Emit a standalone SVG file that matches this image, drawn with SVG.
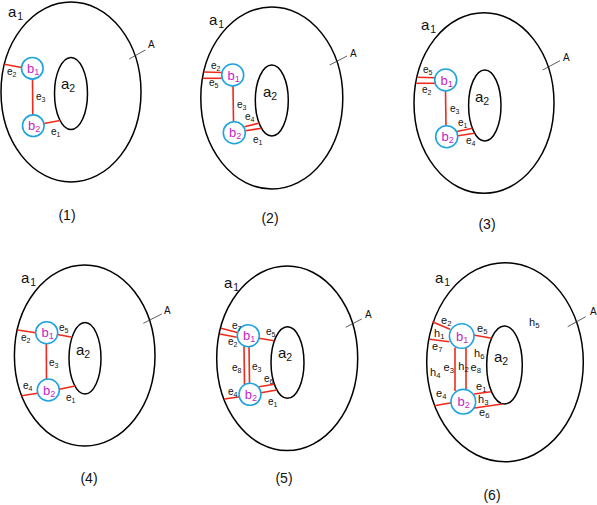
<svg xmlns="http://www.w3.org/2000/svg" width="597" height="505" viewBox="0 0 597 505">
<style>
text{font-family:"Liberation Sans",Arial,sans-serif;fill:#111}
.ring{fill:none;stroke:#000;stroke-width:1.5}
.b{fill:#fff;stroke:#1ea3df;stroke-width:1.6}
.e{stroke:#f02a1a;stroke-width:1.6;fill:none}
.t{stroke:#333;stroke-width:0.8}
.a{font-size:15px}
.bl{font-size:13px;fill:#c41fc4}
.l{font-size:10px}
.l6{font-size:11px}
.A{font-size:10px}
.cap{font-size:14px}
.s{font-size:70%}
</style>
<rect width="597" height="505" fill="#fff"/>

<!-- Panel 1 -->
<g id="panel1">
<g id="p1-outer"><ellipse class="ring" cx="71" cy="92" rx="70" ry="90"/></g>
<g id="p1-inner"><ellipse class="ring" cx="71" cy="93.5" rx="16.5" ry="36"/></g>
<g id="p1-connectors">
<line class="e" x1="4.3" y1="64.3" x2="21.6" y2="67.5"/>
<line class="e" x1="32.5" y1="79" x2="32.8" y2="115"/>
<line class="e" x1="44" y1="123.5" x2="60.2" y2="120.5"/>
<line class="t" x1="129.3" y1="59" x2="145.3" y2="50"/>
</g>
<g id="p1-b1"><circle class="b" cx="32.3" cy="68.3" r="10.8"/><text class="bl" x="27" y="72.5">b<tspan class="s" dy="2">1</tspan></text></g>
<g id="p1-b2"><circle class="b" cx="33.3" cy="125.7" r="10.8"/><text class="bl" x="28" y="130">b<tspan class="s" dy="2">2</tspan></text></g>
<text class="a" x="8" y="17">a<tspan class="s" dx="1" dy="3">1</tspan></text>
<text class="a" x="61" y="89">a<tspan class="s" dy="3">2</tspan></text>
<text class="A" x="148" y="48">A</text>
<text class="l" x="7" y="75">e<tspan class="s" dy="2">2</tspan></text>
<text class="l" x="36" y="100">e<tspan class="s" dy="2">3</tspan></text>
<text class="l" x="51" y="135">e<tspan class="s" dy="2">1</tspan></text>
<text class="cap" x="67" y="220" text-anchor="middle">(1)</text>
</g>

<!-- Panel 2 -->
<g id="panel2">
<g id="p2-outer"><ellipse class="ring" cx="271.8" cy="98" rx="71" ry="91"/></g>
<g id="p2-inner"><ellipse class="ring" cx="271.8" cy="100.5" rx="16.5" ry="35.5"/></g>
<g id="p2-connectors">
<line class="e" x1="203.8" y1="72" x2="222" y2="72.5"/>
<line class="e" x1="202.7" y1="78.3" x2="221.8" y2="78.3"/>
<line class="e" x1="233" y1="86" x2="233.5" y2="121.7"/>
<line class="e" x1="244.5" y1="126.7" x2="259.5" y2="123"/>
<line class="e" x1="245.5" y1="130.7" x2="261.5" y2="128.3"/>
<line class="t" x1="329.7" y1="65" x2="347" y2="56"/>
</g>
<g id="p2-b1"><circle class="b" cx="232.7" cy="75" r="11"/><text class="bl" x="227.5" y="79.5">b<tspan class="s" dy="2">1</tspan></text></g>
<g id="p2-b2"><circle class="b" cx="234.3" cy="132.7" r="11"/><text class="bl" x="229" y="137">b<tspan class="s" dy="2">2</tspan></text></g>
<text class="a" x="209" y="25">a<tspan class="s" dx="1" dy="3">1</tspan></text>
<text class="a" x="263" y="97">a<tspan class="s" dy="3">2</tspan></text>
<text class="A" x="350" y="57">A</text>
<text class="l" x="211" y="69">e<tspan class="s" dy="2">2</tspan></text>
<text class="l" x="209" y="86">e<tspan class="s" dy="2">5</tspan></text>
<text class="l" x="237" y="108">e<tspan class="s" dy="2">3</tspan></text>
<text class="l" x="245" y="120">e<tspan class="s" dy="2">4</tspan></text>
<text class="l" x="253" y="143">e<tspan class="s" dy="2">1</tspan></text>
<text class="cap" x="270" y="223" text-anchor="middle">(2)</text>
</g>

<!-- Panel 3 -->
<g id="panel3">
<g id="p3-outer"><ellipse class="ring" cx="484" cy="103" rx="70" ry="90.3"/></g>
<g id="p3-inner"><ellipse class="ring" cx="484.8" cy="105.5" rx="16.2" ry="35.5"/></g>
<g id="p3-connectors">
<line class="e" x1="417" y1="77.3" x2="435" y2="77.8"/>
<line class="e" x1="416.3" y1="83.3" x2="435" y2="83.3"/>
<line class="e" x1="445.5" y1="91.3" x2="446" y2="126"/>
<line class="e" x1="457" y1="131.5" x2="472.4" y2="128.3"/>
<line class="e" x1="458" y1="135.7" x2="474.5" y2="133.3"/>
<line class="t" x1="542.7" y1="70" x2="560" y2="60.7"/>
</g>
<g id="p3-b1"><circle class="b" cx="445.7" cy="80" r="11"/><text class="bl" x="440.5" y="84.5">b<tspan class="s" dy="2">1</tspan></text></g>
<g id="p3-b2"><circle class="b" cx="446.7" cy="136.7" r="11"/><text class="bl" x="441.5" y="141">b<tspan class="s" dy="2">2</tspan></text></g>
<text class="a" x="421" y="30">a<tspan class="s" dx="1" dy="3">1</tspan></text>
<text class="a" x="475" y="102">a<tspan class="s" dy="3">2</tspan></text>
<text class="A" x="563" y="61">A</text>
<text class="l" x="423" y="73">e<tspan class="s" dy="2">5</tspan></text>
<text class="l" x="422" y="93">e<tspan class="s" dy="2">2</tspan></text>
<text class="l" x="450" y="112">e<tspan class="s" dy="2">3</tspan></text>
<text class="l" x="458" y="126">e<tspan class="s" dy="2">1</tspan></text>
<text class="l" x="466" y="144">e<tspan class="s" dy="2">4</tspan></text>
<text class="cap" x="487" y="229" text-anchor="middle">(3)</text>
</g>

<!-- Panel 4 -->
<g id="panel4">
<g id="p4-outer"><ellipse class="ring" cx="84.7" cy="355.5" rx="70.3" ry="90.5"/></g>
<g id="p4-inner"><ellipse class="ring" cx="85" cy="358.3" rx="16" ry="35.7"/></g>
<g id="p4-connectors">
<line class="e" x1="17.5" y1="330" x2="35.8" y2="332.7"/>
<line class="e" x1="57.5" y1="334.5" x2="72.2" y2="337.3"/>
<line class="e" x1="46.3" y1="343.7" x2="46.5" y2="379.2"/>
<line class="e" x1="21.7" y1="395.7" x2="37.5" y2="393.3"/>
<line class="e" x1="59.3" y1="389.3" x2="75" y2="386"/>
<line class="t" x1="143.3" y1="323.3" x2="161.7" y2="314"/>
</g>
<g id="p4-b1"><circle class="b" cx="46.7" cy="332.7" r="11"/><text class="bl" x="41.5" y="337">b<tspan class="s" dy="2">1</tspan></text></g>
<g id="p4-b2"><circle class="b" cx="48.3" cy="390" r="11"/><text class="bl" x="43" y="394.5">b<tspan class="s" dy="2">2</tspan></text></g>
<text class="a" x="21" y="283">a<tspan class="s" dx="1" dy="3">1</tspan></text>
<text class="a" x="76" y="355">a<tspan class="s" dy="3">2</tspan></text>
<text class="A" x="164" y="314">A</text>
<text class="l" x="21" y="341">e<tspan class="s" dy="2">2</tspan></text>
<text class="l" x="59" y="331">e<tspan class="s" dy="2">5</tspan></text>
<text class="l" x="49" y="366">e<tspan class="s" dy="2">3</tspan></text>
<text class="l" x="23" y="389">e<tspan class="s" dy="2">4</tspan></text>
<text class="l" x="66" y="401">e<tspan class="s" dy="2">1</tspan></text>
<text class="cap" x="89" y="483" text-anchor="middle">(4)</text>
</g>

<!-- Panel 5 -->
<g id="panel5">
<g id="p5-outer"><ellipse class="ring" cx="287.2" cy="358.3" rx="70.5" ry="92.3"/></g>
<g id="p5-inner"><ellipse class="ring" cx="287.5" cy="362.5" rx="16.5" ry="35.8"/></g>
<g id="p5-connectors">
<line class="e" x1="221" y1="328.3" x2="238.3" y2="332.7"/>
<line class="e" x1="219.8" y1="334" x2="236.8" y2="337.3"/>
<line class="e" x1="259" y1="338.3" x2="274.2" y2="340.7"/>
<line class="e" x1="244" y1="346" x2="244.5" y2="384.5"/>
<line class="e" x1="249" y1="346.5" x2="249.5" y2="383.5"/>
<line class="e" x1="259" y1="386.7" x2="274.3" y2="384.3"/>
<line class="e" x1="261" y1="392.7" x2="276.7" y2="390"/>
<line class="e" x1="224.3" y1="399" x2="240" y2="396.7"/>
<line class="t" x1="345.7" y1="327.3" x2="361.7" y2="319"/>
</g>
<g id="p5-b1"><circle class="b" cx="248.3" cy="335.7" r="11"/><text class="bl" x="243" y="340">b<tspan class="s" dy="2">1</tspan></text></g>
<g id="p5-b2"><circle class="b" cx="250" cy="394.3" r="11"/><text class="bl" x="244.7" y="398.7">b<tspan class="s" dy="2">2</tspan></text></g>
<text class="a" x="224" y="288">a<tspan class="s" dx="1" dy="3">1</tspan></text>
<text class="a" x="278" y="358">a<tspan class="s" dy="3">2</tspan></text>
<text class="A" x="365" y="318">A</text>
<text class="l" x="232" y="329">e<tspan class="s" dy="2">7</tspan></text>
<text class="l" x="228" y="345">e<tspan class="s" dy="2">2</tspan></text>
<text class="l" x="266" y="335">e<tspan class="s" dy="2">5</tspan></text>
<text class="l" x="232" y="371">e<tspan class="s" dy="2">8</tspan></text>
<text class="l" x="252" y="370">e<tspan class="s" dy="2">3</tspan></text>
<text class="l" x="264" y="382">e<tspan class="s" dy="2">6</tspan></text>
<text class="l" x="228" y="395">e<tspan class="s" dy="2">4</tspan></text>
<text class="l" x="268" y="405">e<tspan class="s" dy="2">1</tspan></text>
<text class="cap" x="284" y="483" text-anchor="middle">(5)</text>
</g>

<!-- Panel 6 -->
<g id="panel6">
<g id="p6-outer"><ellipse class="ring" cx="505" cy="362.2" rx="78.3" ry="99.5"/></g>
<g id="p6-inner"><ellipse class="ring" cx="504.5" cy="365" rx="17.8" ry="39"/></g>
<g id="p6-connectors">
<line class="e" x1="432.3" y1="321.7" x2="450" y2="329.3"/>
<line class="e" x1="430" y1="339.3" x2="449.3" y2="341.7"/>
<line class="e" x1="473.5" y1="335" x2="491.7" y2="338.3"/>
<line class="e" x1="455" y1="347.5" x2="455" y2="391"/>
<line class="e" x1="466" y1="347" x2="466" y2="391.5"/>
<line class="e" x1="474" y1="394" x2="491" y2="391.7"/>
<line class="e" x1="472.7" y1="408.3" x2="502.3" y2="404"/>
<line class="e" x1="434.3" y1="405.7" x2="451.5" y2="402.7"/>
<line class="t" x1="567.7" y1="326.7" x2="585.7" y2="316.7"/>
</g>
<g id="p6-b1"><circle class="b" cx="461.7" cy="336" r="12.3"/><text class="bl" x="456" y="340.5">b<tspan class="s" dy="2">1</tspan></text></g>
<g id="p6-b2"><circle class="b" cx="463.3" cy="401.7" r="12.3"/><text class="bl" x="457.6" y="406.2">b<tspan class="s" dy="2">2</tspan></text></g>
<text class="a" x="435" y="283">a<tspan class="s" dx="1" dy="3">1</tspan></text>
<text class="a" x="494" y="362">a<tspan class="s" dy="3">2</tspan></text>
<text class="A" x="590" y="315">A</text>
<text class="l6" x="441" y="324">e<tspan class="s" dy="2">2</tspan></text>
<text class="l6" x="434" y="337">h<tspan class="s" dy="2">1</tspan></text>
<text class="l6" x="432" y="350">e<tspan class="s" dy="2">7</tspan></text>
<text class="l6" x="477" y="332">e<tspan class="s" dy="2">5</tspan></text>
<text class="l6" x="474" y="357">h<tspan class="s" dy="2">6</tspan></text>
<text class="l6" x="430" y="376">h<tspan class="s" dy="2">4</tspan></text>
<text class="l6" x="443.5" y="371">e<tspan class="s" dy="2">3</tspan></text>
<text class="l6" x="458.3" y="370">h<tspan class="s" dy="2">2</tspan></text>
<text class="l6" x="470.5" y="371">e<tspan class="s" dy="2">8</tspan></text>
<text class="l6" x="476" y="390">e<tspan class="s" dy="2">1</tspan></text>
<text class="l6" x="436" y="397">e<tspan class="s" dy="2">4</tspan></text>
<text class="l6" x="478" y="403">h<tspan class="s" dy="2">3</tspan></text>
<text class="l6" x="479" y="416">e<tspan class="s" dy="2">6</tspan></text>
<text class="l6" x="529" y="326">h<tspan class="s" dy="2">5</tspan></text>
<text class="cap" x="492" y="500" text-anchor="middle">(6)</text>
</g>
</svg>
